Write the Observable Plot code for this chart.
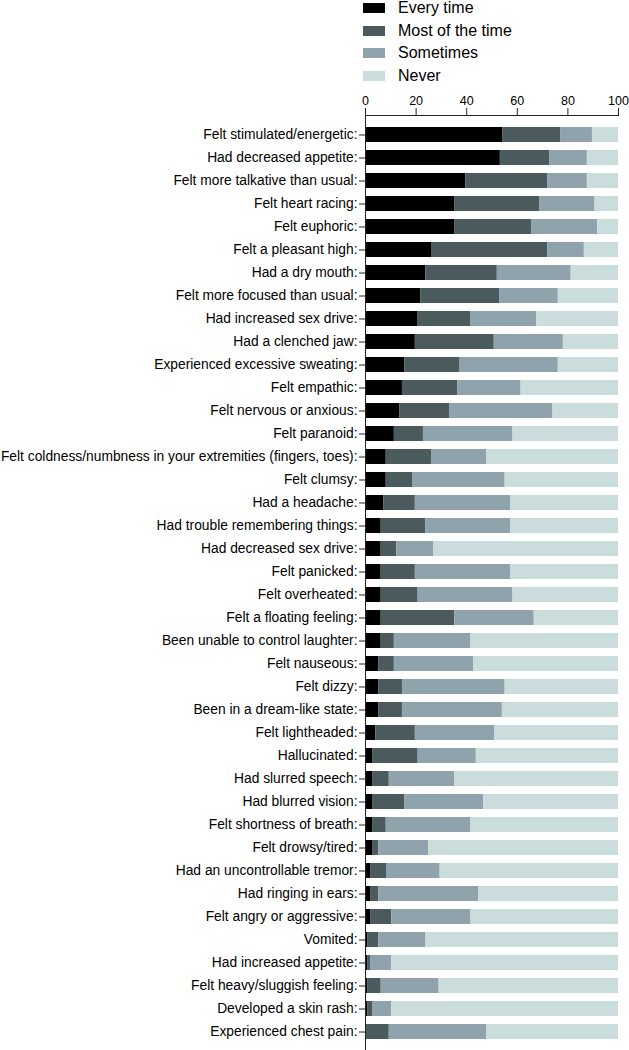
<!DOCTYPE html>
<html>
<head>
<meta charset="utf-8">
<script src="https://cdn.jsdelivr.net/npm/d3@7"></script>
<script src="https://cdn.jsdelivr.net/npm/@observablehq/plot@0.6"></script>
<style>
  html, body { margin: 0; padding: 0; background: #fff; }
  body { width: 629px; height: 1050px; overflow: hidden; font-family: "Liberation Sans", Arial, sans-serif; }
  #legend { position: relative; height: 88px; }
  #legend .inner { position: absolute; left: 363px; top: -3px; }
  #legend .item { display: flex; align-items: center; height: 22.5px; font-size: 16px; line-height: 1; color: #000; }
  #legend .sw { width: 22px; height: 10px; margin-right: 13px; }
  #chart svg { display: block; }
</style>
</head>
<body>
<div id="legend"><div class="inner"></div></div>
<div id="chart"></div>
<script>
const symptoms = [
  "Felt stimulated/energetic:",
  "Had decreased appetite:",
  "Felt more talkative than usual:",
  "Felt heart racing:",
  "Felt euphoric:",
  "Felt a pleasant high:",
  "Had a dry mouth:",
  "Felt more focused than usual:",
  "Had increased sex drive:",
  "Had a clenched jaw:",
  "Experienced excessive sweating:",
  "Felt empathic:",
  "Felt nervous or anxious:",
  "Felt paranoid:",
  "Felt coldness/numbness in your extremities (fingers, toes):",
  "Felt clumsy:",
  "Had a headache:",
  "Had trouble remembering things:",
  "Had decreased sex drive:",
  "Felt panicked:",
  "Felt overheated:",
  "Felt a floating feeling:",
  "Been unable to control laughter:",
  "Felt nauseous:",
  "Felt dizzy:",
  "Been in a dream-like state:",
  "Felt lightheaded:",
  "Hallucinated:",
  "Had slurred speech:",
  "Had blurred vision:",
  "Felt shortness of breath:",
  "Felt drowsy/tired:",
  "Had an uncontrollable tremor:",
  "Had ringing in ears:",
  "Felt angry or aggressive:",
  "Vomited:",
  "Had increased appetite:",
  "Felt heavy/sluggish feeling:",
  "Developed a skin rash:",
  "Experienced chest pain:"
];

const responses = ["Every time", "Most of the time", "Sometimes", "Never"];
const colors = ["#000000", "#4b5a5c", "#8ea3ab", "#cadcdc"];

const everyTime = [54.2, 53.3, 39.6, 35.4, 35.4, 26.1, 23.9, 21.8, 20.8, 19.7,
  15.6, 14.6, 13.5, 11.4, 8.2, 8.2, 7.3, 6.2, 6.2, 6.2,
  6.2, 6.2, 6.2, 5.2, 5.2, 5.2, 4.1, 3.0, 3.0, 3.0,
  3.0, 3.0, 2.0, 2.0, 2.0, 1.0, 1.0, 1.0, 1.0, 0];
const mostOfTheTime = [22.9, 19.6, 32.4, 33.4, 30.2, 45.9, 28.2, 31.2, 20.7, 31.2,
  21.8, 21.8, 19.7, 11.5, 17.9, 10.6, 12.4, 17.7, 6.2, 13.5,
  14.6, 29.1, 5.2, 6.2, 9.4, 9.4, 15.6, 17.8, 6.4, 12.6,
  5.2, 2.2, 6.3, 3.2, 8.4, 4.2, 1.0, 5.2, 2.0, 9.4];
const sometimes = [12.6, 14.8, 15.7, 21.9, 26.2, 14.5, 29.2, 23.2, 26.2, 27.3,
  38.8, 25.1, 40.9, 35.4, 21.8, 36.4, 37.6, 33.4, 14.6, 37.6,
  37.5, 31.4, 30.3, 31.3, 40.6, 39.5, 31.4, 23.0, 25.9, 31.2,
  33.5, 19.8, 21.2, 39.5, 31.3, 18.7, 8.4, 22.9, 7.4, 38.5];
const never = [10.3, 12.3, 12.3, 9.3, 8.2, 13.5, 18.7, 23.8, 32.3, 21.8,
  23.8, 38.5, 25.9, 41.7, 52.1, 44.8, 42.7, 42.7, 73.0, 42.7,
  41.7, 33.3, 58.3, 57.3, 44.8, 45.9, 48.9, 56.2, 64.7, 53.2,
  58.3, 75.0, 70.5, 55.3, 58.3, 76.1, 89.6, 70.9, 89.6, 52.1];

const xTicks = [0, 20, 40, 60, 80, 100];

const series = [everyTime, mostOfTheTime, sometimes, never];
const table = [];
symptoms.forEach((s, i) => {
  responses.forEach((r, j) => {
    table.push({symptom: s, response: r, order: j, value: series[j][i]});
  });
});

// Legend
const inner = document.querySelector("#legend .inner");
responses.forEach((r, j) => {
  const item = document.createElement("div");
  item.className = "item";
  const sw = document.createElement("div");
  sw.className = "sw";
  sw.style.background = colors[j];
  const t = document.createElement("span");
  t.textContent = r;
  item.appendChild(sw);
  item.appendChild(t);
  inner.appendChild(item);
});

const chart = Plot.plot({
  width: 629,
  height: 962,
  marginTop: 27,
  marginBottom: 0,
  marginLeft: 365,
  marginRight: 11,
  style: {fontFamily: "'Liberation Sans', Arial, sans-serif", color: "#000", background: "#fff"},
  x: {domain: [0, 100], axis: null},
  y: {domain: symptoms, paddingInner: 0.357, paddingOuter: 0.214, axis: null},
  color: {domain: responses, range: colors},
  marks: [
    Plot.barX(table, Plot.stackX({
      x: "value",
      y: "symptom",
      fill: "response",
      order: responses,
      inset: 0
    })),
    Plot.axisX({anchor: "top", ticks: xTicks, tickSize: 8, tickPadding: 3, fontSize: 12.5, label: null, stroke: "#222"}),
    Plot.axisY({anchor: "left", tickSize: 6, tickPadding: 2, fontSize: 13.8, label: null, stroke: "#222"}),
    Plot.frame({anchor: "top", stroke: "#222"}),
    Plot.frame({anchor: "left", stroke: "#222"})
  ]
});
document.getElementById("chart").appendChild(chart);
</script>
</body>
</html>
